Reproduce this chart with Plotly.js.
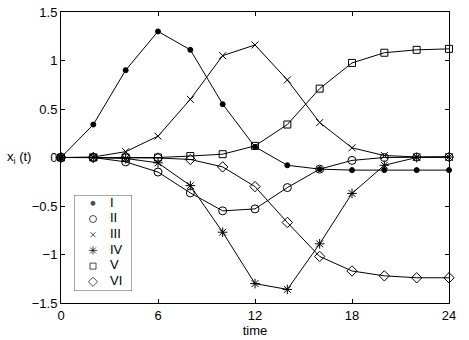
<!DOCTYPE html>
<html>
<head>
<meta charset="utf-8">
<script src="https://cdn.plot.ly/plotly-3.0.1.min.js"></script>
<style>html,body{margin:0;padding:0;background:#fff;}#chart{width:469px;height:340px;}</style>
</head>
<body>
<div id="chart"></div>
<script>
const time = [0, 2, 4, 6, 8, 10, 12, 14, 16, 18, 20, 22, 24];
const seriesNames = ["I", "II", "III", "IV", "V", "VI"];
const xI   = [0, 0.34, 0.90, 1.30, 1.11, 0.55, 0.11, -0.08, -0.12, -0.13, -0.13, -0.13, -0.13];
const xII  = [0, 0, -0.045, -0.15, -0.365, -0.55, -0.53, -0.31, -0.12, -0.03, 0.0, 0.005, 0.005];
const xIII = [0, 0.005, 0.06, 0.22, 0.60, 1.05, 1.16, 0.80, 0.36, 0.10, 0.02, 0.006, 0.005];
const xIV  = [0, 0, -0.01, -0.055, -0.29, -0.77, -1.30, -1.36, -0.89, -0.37, -0.08, 0.0, 0.005];
const xV   = [0, 0, 0, 0, 0.015, 0.034, 0.12, 0.34, 0.71, 0.975, 1.08, 1.11, 1.12];
const xVI  = [0, 0, 0, -0.005, -0.02, -0.097, -0.30, -0.67, -1.02, -1.17, -1.22, -1.24, -1.24];
const xTicks = [0, 6, 12, 18, 24];
const yTicks = [-1.5, -1, -0.5, 0, 0.5, 1, 1.5];

const values = [xI, xII, xIII, xIV, xV, xVI];
const symbols = ["circle", "circle-open", "x-thin-open", "asterisk-open", "square-open", "diamond-open"];
const sizes = [5, 8, 7, 8, 7, 8];
const keySizes = [4, 7, 5, 7, 6, 7];

const traces = values.map((v, i) => ({
  x: time, y: v, name: seriesNames[i], type: "scatter", mode: "lines+markers",
  cliponaxis: false, showlegend: false,
  line: {color: "#000", width: 1},
  marker: {symbol: symbols[i], size: sizes[i], color: "#000", line: {color: "#000", width: 1}}
}));

// Boxed key (MATLAB-style: markers only), drawn on its own hidden axes in pixel-like units
const keyW = 58, keyH = 96, rowTop = 8.3, rowStep = 15.7;
const keyRows = seriesNames.map((_, i) => rowTop + rowStep * i);
traces.push({
  x: seriesNames.map(() => 19), y: keyRows, xaxis: "x2", yaxis: "y2",
  type: "scatter", mode: "markers", showlegend: false, cliponaxis: false, hoverinfo: "skip",
  marker: {symbol: symbols, size: keySizes, color: "#000", line: {color: "#000", width: 1}}
});
traces.push({
  x: seriesNames.map(() => 36), y: keyRows, xaxis: "x2", yaxis: "y2",
  type: "scatter", mode: "text", text: seriesNames, textposition: "middle right",
  showlegend: false, cliponaxis: false, hoverinfo: "skip",
  textfont: {family: "Liberation Sans, Arial, sans-serif", size: 13, color: "#000"}
});

const font = {family: "Liberation Sans, Arial, sans-serif", size: 13, color: "#000"};
const plotL = 61, plotR = 449, plotT = 12, plotB = 303;
const pw = plotR - plotL, ph = plotB - plotT;
const keyX0 = 74, keyY0 = 195;
const layout = {
  width: 469, height: 340,
  margin: {l: plotL, r: 469 - plotR, t: plotT, b: 340 - plotB},
  paper_bgcolor: "#fff", plot_bgcolor: "rgba(0,0,0,0)",
  font: font,
  showlegend: false,
  xaxis: {range: [0, 24], tickvals: xTicks, ticks: "inside", ticklen: 4, tickcolor: "#000",
          showline: true, linecolor: "#000", linewidth: 1, mirror: "ticks",
          showgrid: false, zeroline: false, tickfont: font,
          title: {text: "time", font: font, standoff: 2}},
  yaxis: {range: [-1.5, 1.5], tickvals: yTicks, ticks: "inside", ticklen: 4, tickcolor: "#000",
          showline: true, linecolor: "#000", linewidth: 1, mirror: "ticks",
          showgrid: false, zeroline: false, tickfont: font},
  xaxis2: {domain: [(keyX0 - plotL) / pw, (keyX0 + keyW - plotL) / pw], anchor: "y2",
           range: [0, keyW], visible: false, fixedrange: true},
  yaxis2: {domain: [(plotB - keyY0 - keyH) / ph, (plotB - keyY0) / ph], anchor: "x2",
           range: [keyH, 0], visible: false, fixedrange: true},
  shapes: [{type: "rect", xref: "x2", yref: "y2", x0: 0, x1: keyW, y0: 0, y1: keyH,
            line: {color: "#555", width: 1}, fillcolor: "#fff", layer: "below"}],
  annotations: [{text: "x<sub>i</sub> (t)", xref: "paper", yref: "paper",
                 x: -0.145, y: 0.5, xanchor: "left", yanchor: "middle",
                 showarrow: false, font: font}]
};
Plotly.newPlot("chart", traces, layout, {displayModeBar: false, staticPlot: true});
</script>
</body>
</html>
